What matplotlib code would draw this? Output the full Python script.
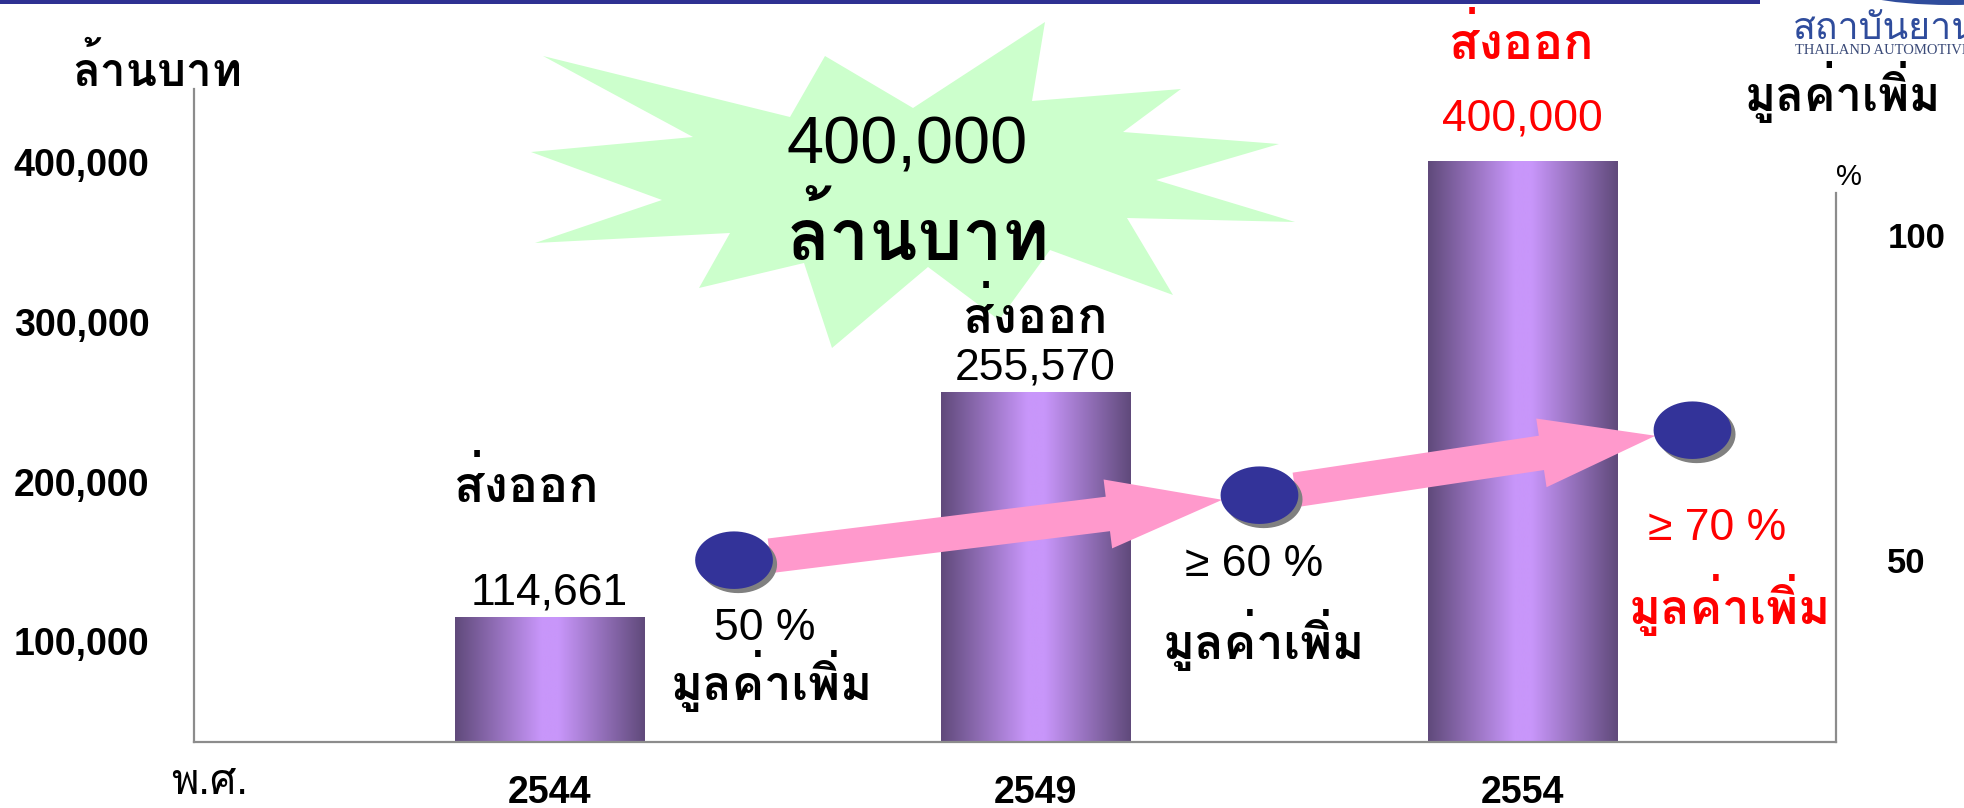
import numpy as np
import matplotlib
matplotlib.use("Agg")
import matplotlib.pyplot as plt
import matplotlib.patheffects as pe
from matplotlib.patches import Polygon, Rectangle, Ellipse, FancyArrowPatch, ArrowStyle
from matplotlib.path import Path
from matplotlib.ticker import FuncFormatter

plt.rcParams['font.family'] = ['Liberation Sans', 'Loma', 'DejaVu Sans']

# export value in million baht, by Buddhist-era year
years = ['2544', '2549', '2554']
export_values = [114661, 255570, 400000]
# local value-added share (%)
value_added = [50, 60, 70]
value_added_labels = ['50 %', '≥ 60 %', '≥ 70 %']
left_ticks = [100000, 200000, 300000, 400000]
right_ticks = [50, 100]

W, H = 1964, 808
fig = plt.figure(figsize=(W / 100, H / 100), dpi=100)


def fx(px):
    return px / W


def fy(py):
    return 1 - py / H


# header rule + logo
fig.add_artist(Rectangle((0, fy(3.5)), fx(1760), 3.5 / H, transform=fig.transFigure,
                         color='#2E3192', lw=0))
fig.add_artist(Ellipse((fx(1950), fy(-20)), fx(230), 50 / H, transform=fig.transFigure,
                       color='#2F4C9C', lw=0))
fig.text(fx(1793), fy(27), 'สถาบันยานยนต์', fontsize=27, color='#2F4C9C', va='center', ha='left')
fig.text(fx(1795), fy(51), 'THAILAND AUTOMOTIVE INSTITUTE', fontsize=10.5, color='#3A4A78',
         family='Liberation Serif', va='center', ha='left')

# green burst behind the headline figure
burst = [(543, 56), (790, 117), (825, 56), (913, 108), (1045, 22), (1032, 101),
         (1181, 89), (1123, 132), (1279, 144), (1156, 180), (1295, 222), (1127, 218),
         (1173, 295), (1050, 250), (999, 320), (928, 267), (832, 348), (804, 263),
         (699, 288), (730, 233), (535, 243), (662, 200), (531, 152), (693, 137)]
burst = np.array([(fx(a), fy(b)) for a, b in burst])
fig.add_artist(Polygon(burst, closed=True, transform=fig.transFigure,
                       facecolor='#CCFFCC', edgecolor='none', zorder=-1))
fig.text(fx(907), fy(146), '400,000', fontsize=48, ha='center', va='center')
fig.text(fx(918), fy(238), 'ล้านบาท', fontsize=51, fontweight='bold', ha='center', va='center')

ax = fig.add_axes([fx(194), fy(741.5), fx(1836) - fx(194), fy(89) - fy(741.5)])
ax.patch.set_visible(False)
ax.set_xlim(-0.730, 2.645)
ax.set_ylim(37200, 446000)
y_floor = ax.get_ylim()[0]

x = np.arange(len(years))
bars = ax.bar(x, export_values, width=0.389, color='#9370C0', zorder=2)

# horizontal shading on each bar: dark edges, light middle
t = np.linspace(0, 1, 256)
f = np.clip((1 - np.abs(2 * t - 1)) * 1.1, 0, 1)
dark = np.array([96, 74, 123]) / 255
light = np.array([200, 150, 250]) / 255
shade = (dark[None, :] + f[:, None] * (light - dark)[None, :])[None, :, :]
for b in bars:
    x0 = b.get_x()
    ax.imshow(shade, extent=[x0, x0 + b.get_width(), max(b.get_y(), y_floor), b.get_height()],
              aspect='auto', zorder=2.1, interpolation='bilinear')
ax.set_xlim(-0.730, 2.645)
ax.set_ylim(37200, 446000)

ax.set_yticks(left_ticks)
ax.yaxis.set_major_formatter(FuncFormatter(lambda v, p: f'{v:,.0f}'))
ax.tick_params(axis='y', length=0, pad=32, labelsize=27)
ax.set_xticks(x, years)
ax.tick_params(axis='x', length=0, pad=24, labelsize=27)
plt.setp(ax.get_yticklabels() + ax.get_xticklabels(), fontweight='bold')

spine_col = '#8C8C8C'
for s in ['top', 'right']:
    ax.spines[s].set_visible(False)
for s in ['left', 'bottom']:
    ax.spines[s].set_color(spine_col)
    ax.spines[s].set_linewidth(1.6)

label_colors = ['black', 'black', 'red']
value_offsets = [18, 18, 31]
export_offsets = [(-16, 95), (0, 55), (0, 86)]
for xi, v, c, vo, eo in zip(x, export_values, label_colors, value_offsets, export_offsets):
    ax.annotate(f'{v:,}', (xi, v), xytext=(0, vo), textcoords='offset points',
                ha='center', va='center', fontsize=32, color=c, zorder=6)
    ax.annotate('ส่งออก', (xi, v), xytext=eo, textcoords='offset points',
                ha='center', va='center', fontsize=36, fontweight='bold', color=c, zorder=6)

# value-added axis on the right
ax2 = ax.twinx()
ax2.set_ylim(22.1, 122.5)
ax2.set_yticks(right_ticks)
ax2.tick_params(axis='y', length=0, pad=37, labelsize=25)
plt.setp(ax2.get_yticklabels(), fontweight='bold')
for s in ['top', 'left', 'bottom']:
    ax2.spines[s].set_visible(False)
ax2.spines['right'].set_color(spine_col)
ax2.spines['right'].set_linewidth(1.6)
ax2.spines['right'].set_bounds(22.1, 106.5)

dot_x = x + np.array([0.38, 0.46, 0.35])
theta = np.linspace(0, 2 * np.pi, 65)
oval = Path(np.column_stack([np.cos(theta), 0.74 * np.sin(theta)]))

style = ArrowStyle.Simple(head_length=83, head_width=50, tail_width=25)
for i in range(len(value_added) - 1):
    ax2.add_patch(FancyArrowPatch((dot_x[i], value_added[i]), (dot_x[i + 1], value_added[i + 1]),
                                  arrowstyle=style, mutation_scale=1, shrinkA=26, shrinkB=27,
                                  color='#FF99CC', lw=0, zorder=4))

ax2.plot(dot_x, value_added, ls='none', marker=oval, markersize=56, mfc='#333399', mec='none',
         zorder=5, path_effects=[pe.SimplePatchShadow(offset=(3, -3), shadow_rgbFace='#808080', alpha=1),
                                 pe.Normal()])

pct_offsets = [(22, -49), (-4, -50), (18, -71)]
va_offsets = [(27, -87), (3, -104), (27, -126)]
for xi, v, lab, c, po, vo in zip(dot_x, value_added, value_added_labels, label_colors,
                                 pct_offsets, va_offsets):
    ax2.annotate(lab, (xi, v), xytext=po, textcoords='offset points',
                 ha='center', va='center', fontsize=32, color=c, zorder=6)
    ax2.annotate('มูลค่าเพิ่ม', (xi, v), xytext=vo, textcoords='offset points',
                 ha='center', va='center', fontsize=35, fontweight='bold', color=c, zorder=6)

# axis captions
fig.text(fx(157), fy(71), 'ล้านบาท', fontsize=33, fontweight='bold', ha='center', va='center')
fig.text(fx(210), fy(783), 'พ.ศ.', fontsize=30, ha='center', va='center')
fig.text(fx(1849), fy(177), '%', fontsize=21, ha='center', va='center')
fig.text(fx(1843), fy(92), 'มูลค่าเพิ่ม', fontsize=34, fontweight='bold', ha='center', va='center')

fig.savefig('out.png', dpi=100)
